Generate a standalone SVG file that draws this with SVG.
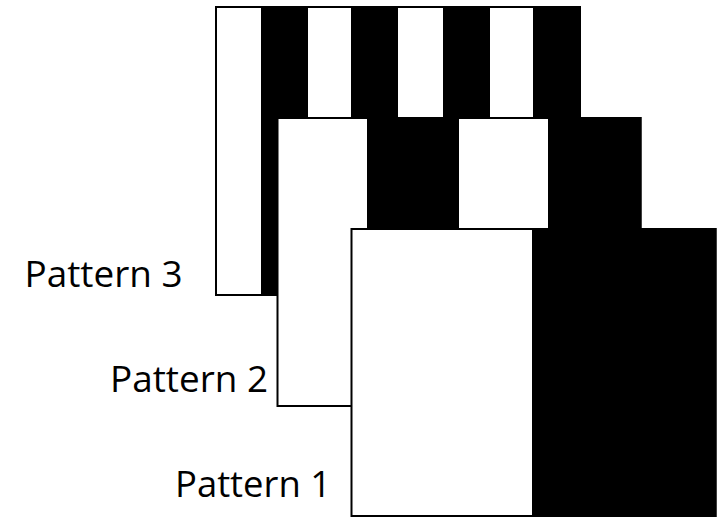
<svg xmlns="http://www.w3.org/2000/svg" width="725" height="517" viewBox="0 0 725 517">
  <style>
    .frame { fill: #fff; stroke: #000; stroke-width: 2; }
    .bar { fill: #000; }
    .label { font-family: "Open Sans", "Liberation Sans", sans-serif; font-size: 36px; fill: #000; }
  </style>
  <rect width="725" height="517" fill="#fff"/>

  <!-- Pattern 3: eight stripes -->
  <g id="pattern3">
    <rect class="frame" x="216" y="7" width="364" height="288"/>
    <rect class="bar" x="261" y="6" width="47" height="290"/>
    <rect class="bar" x="351" y="6" width="47" height="290"/>
    <rect class="bar" x="443" y="6" width="47" height="290"/>
    <rect class="bar" x="533" y="6" width="48" height="290"/>
    <text class="label" x="24.5" y="287" textLength="158" lengthAdjust="spacingAndGlyphs">Pattern 3</text>
  </g>

  <!-- Pattern 2: four stripes -->
  <g id="pattern2">
    <rect class="frame" x="277.5" y="118" width="363" height="288"/>
    <rect class="bar" x="367" y="117" width="92" height="290"/>
    <rect class="bar" x="548" y="117" width="93.5" height="290"/>
    <text class="label" x="110" y="392" textLength="158" lengthAdjust="spacingAndGlyphs">Pattern 2</text>
  </g>

  <!-- Pattern 1: two halves -->
  <g id="pattern1">
    <rect class="frame" x="351.5" y="229" width="364" height="287"/>
    <rect class="bar" x="532" y="228" width="184.5" height="289"/>
    <text class="label" x="175" y="497" textLength="156" lengthAdjust="spacingAndGlyphs">Pattern 1</text>
  </g>
</svg>
